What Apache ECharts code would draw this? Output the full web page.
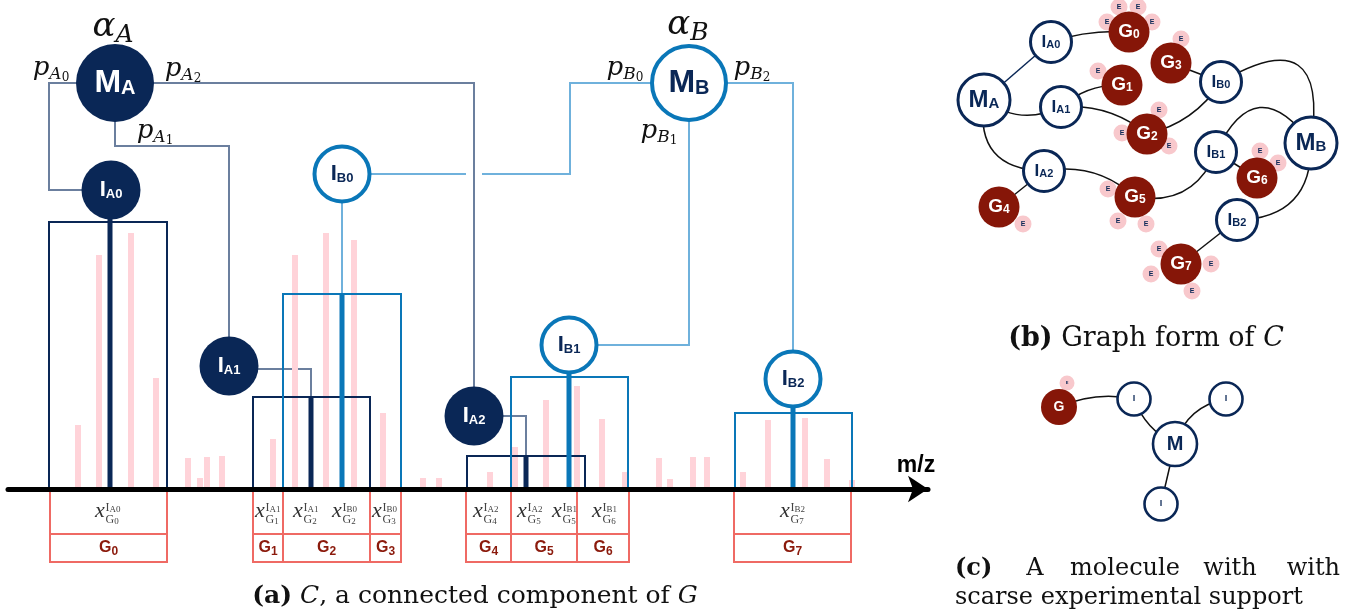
<!DOCTYPE html>
<html>
<head>
<meta charset="utf-8">
<script src="https://cdn.jsdelivr.net/npm/echarts@6/dist/echarts.min.js"></script>
<style>
html,body{margin:0;padding:0;background:#ffffff;}
#chart{width:1345px;height:616px;}
</style>
</head>
<body>
<div id="chart"></div>
<script>
// ================= DATA =================
// (a) spectrum: unannotated peaks (m/z position, intensity)
const peakMz        = [78, 99, 131, 156, 188, 200, 207, 222, 273, 295, 326, 354, 383, 423, 439, 490, 515, 546, 577, 602, 625, 659, 670, 693, 707, 743, 768, 805, 827, 852];
const peakIntensity = [64, 234, 256, 111, 31, 11, 32, 33, 50, 234, 256, 249, 76, 11, 11, 17, 42, 89, 103, 70, 17, 31, 10, 32, 32, 17, 69, 71, 30, 9];

// (a) annotated ions
const ionNames        = ['IA0', 'IA1', 'IA2', 'IB0', 'IB1', 'IB2'];
const ionMolecule     = ['A', 'A', 'A', 'B', 'B', 'B'];
const ionMz           = [110, 311, 526, 342, 569, 793];
const ionIntensity    = [270, 92, 33, 195, 116, 81];
const ionWindowLow    = [49, 253, 467, 283, 511, 735];
const ionWindowHigh   = [167, 370, 585, 401, 628, 852];
const ionWindowHeight = [267, 92, 33, 195, 112, 76];
const ionNodeMz       = [111, 229, 474, 342, 569, 793];
const ionNodeLevel    = [299, 123, 73, 315, 144, 110];

// (a) molecules
const molNames     = ['MA', 'MB'];
const molNodeMz    = [115, 689];
const molNodeLevel = [406, 406];

// (a) routes molecule -> ion (m/z, level)
const routesA = [
  [[115, 406], [49, 406], [49, 299], [111, 299]],
  [[115, 406], [115, 343], [229, 343], [229, 123]],
  [[115, 406], [474, 406], [474, 73]],
  [[229, 120], [311, 120], [311, 92]],
  [[474, 73], [526, 73], [526, 33]]
];
const routesB = [
  [[342, 315], [466, 315]],
  [[482, 315], [570, 315], [570, 406], [689, 406]],
  [[689, 406], [689, 144], [569, 144]],
  [[689, 406], [793, 406], [793, 110]],
  [[342, 315], [342, 195]]
];

// (a) parameter annotations
const annotNames = ['αA', 'αB', 'pA0', 'pA1', 'pA2', 'pB0', 'pB1', 'pB2'];
const annotMz    = [113, 688, 51, 155, 183, 625, 659, 752];
const annotLevel = [462, 464, 421, 358, 420, 421, 358, 421];

// (a) groups below the axis
const groupNames = ['G0', 'G1', 'G2', 'G3', 'G4', 'G5', 'G6', 'G7'];
const groupLow   = [50, 253, 283, 370, 466, 511, 577, 734];
const groupHigh  = [167, 283, 370, 401, 511, 577, 629, 851];

// (a) assignments x^{ion}_{group}
const assignIon   = ['IA0', 'IA1', 'IA1', 'IB0', 'IB0', 'IA2', 'IA2', 'IB1', 'IB1', 'IB2'];
const assignGroup = ['G0', 'G1', 'G2', 'G2', 'G3', 'G4', 'G5', 'G5', 'G6', 'G7'];
const assignMz    = [95, 255, 293, 332, 372, 473, 517, 552, 592, 780];

// (b) graph form
const gNodeNames = ['MA', 'IA0', 'IA1', 'IA2', 'G0', 'G1', 'G2', 'G3', 'G4', 'G5', 'G6', 'G7', 'IB0', 'IB1', 'IB2', 'MB'];
const gNodeX     = [984, 1051, 1061, 1044, 1129, 1122, 1147, 1171, 999, 1135, 1257, 1181, 1221, 1216, 1237, 1311];
const gNodeY     = [100, 42, 107, 171, 32, 85, 134, 63, 207, 197, 178, 264, 82, 152, 220, 143];
const gEdgeFrom  = ['MA', 'MA', 'MA', 'IA0', 'IA1', 'IA1', 'IA2', 'IA2', 'G3', 'G2', 'IB0', 'IB1', 'IB1', 'IB1', 'IB2', 'IB2'];
const gEdgeTo    = ['IA0', 'IA1', 'IA2', 'G0', 'G1', 'G2', 'G4', 'G5', 'IB0', 'IB0', 'MB', 'MB', 'G5', 'G6', 'MB', 'G7'];
const gEdgeBend  = [0, -0.3, -0.56, 0.1, 0.2, 0.2, 0, 0.25, 0, -0.2, 1.05, 0.84, 0.4, 0, -0.5, 0];
const eParent    = ['G0', 'G0', 'G0', 'G0', 'G3', 'G1', 'G2', 'G2', 'G2', 'G6', 'G6', 'G5', 'G5', 'G5', 'G4', 'G7', 'G7', 'G7', 'G7'];
const eX         = [1107, 1119, 1138, 1152, 1181, 1098, 1159, 1122, 1169, 1260, 1278, 1108, 1118, 1146, 1023, 1159, 1151, 1211, 1192];
const eY         = [22, 7, 7, 22, 39, 71, 110, 133, 146, 151, 163, 189, 221, 224, 224, 249, 274, 264, 291];

// (c) molecule with scarce support
const cNodeNames = ['E', 'G', 'I1', 'I2', 'M', 'I3'];
const cNodeX     = [1067, 1059, 1134, 1226, 1175, 1161];
const cNodeY     = [383, 407, 399, 399, 444, 504];
const cEdgeFrom  = ['G', 'I1', 'I2', 'M'];
const cEdgeTo    = ['I1', 'M', 'M', 'I3'];
const cEdgeBend  = [0.16, -0.2, -0.3, 0];

// ================= STYLE =================
const NAVY = '#0a2756';
const BLUE = '#0a77b8';
const LBLUE = '#6fb1dc';
const GRAYBLUE = '#6b7f9e';
const PINK = '#ffd3d9';
const RED = '#ef6a64';
const DARKRED = '#8b1a0c';
const GNODE = '#861608';
const EPINK = '#f8c8cc';
const SANS = '"Liberation Sans", Arial, Helvetica, sans-serif';
const SERIF = '"DejaVu Serif", "Liberation Serif", serif';
const TSERIF = '"Liberation Serif", "DejaVu Serif", serif';
const ROW1 = -45, ROW2 = -73, XLAB = -23.5;

function tok(color, size, drop) {
  return {color: color, fontSize: size, fontWeight: 'bold', fontFamily: SANS, lineHeight: size, verticalAlign: 'top', padding: [drop || 0, 0, 0, 0]};
}
function ztok(fill, size, drop, fontStyle, weight, family) {
  return {fill: fill, fontSize: size, fontFamily: family || SERIF, fontStyle: fontStyle || 'normal', fontWeight: weight || 'normal', lineHeight: size, verticalAlign: 'top', padding: [drop || 0, 0, 0, 0]};
}

const nodeRich = {
  wM: tok('#fff', 32, 0), wS: tok('#fff', 20, 11),
  nM: tok(NAVY, 32, 0), nS: tok(NAVY, 20, 11),
  wI: tok('#fff', 22, 0), wIs: tok('#fff', 13, 9),
  nI: tok(NAVY, 22, 0), nIs: tok(NAVY, 13, 9)
};
const graphRich = {
  bM: tok(NAVY, 24, 0), bMs: tok(NAVY, 15, 8),
  bI: tok(NAVY, 17, 0), bIs: tok(NAVY, 11, 6),
  bG: tok('#fff', 19, 0), bGs: tok('#fff', 12, 6),
  e: tok(NAVY, 7, 0),
  cG: tok('#fff', 14, 0), cI: tok(NAVY, 9, 0), cM: tok(NAVY, 20, 0), cE: tok(NAVY, 4, 0)
};
const mathRich = {
  aM: ztok('#111', 34, 0, 'italic'), aS: ztok('#111', 25, 13, 'italic'),
  pM: ztok('#111', 26, 0, 'italic'), pS: ztok('#111', 17, 11, 'italic'), pN: ztok('#111', 12, 17)
};
const xRich = {
  x: ztok('#333', 22, 0, 'italic', 'normal', TSERIF),
  a: ztok('#444', 12, 0, 'normal', 'normal', TSERIF), b: ztok('#444', 9, 4, 'normal', 'normal', TSERIF)
};
const gRich = {
  g: ztok(DARKRED, 16, 0, 'normal', 'bold', SANS),
  n: ztok(DARKRED, 12, 6, 'normal', 'bold', SANS)
};

// ================= BUILD =================
const nodeItems = [];
molNames.forEach(function (n, i) {
  const isA = n === 'MA';
  nodeItems.push({
    value: [molNodeMz[i], molNodeLevel[i]],
    symbolSize: isA ? 78 : 74,
    itemStyle: isA ? {color: NAVY, opacity: 1} : {color: '#fff', borderColor: BLUE, borderWidth: 4, opacity: 1},
    label: {formatter: isA ? '{wM|M}{wS|A}' : '{nM|M}{nS|B}'}
  });
});
ionNames.forEach(function (n, i) {
  const isA = ionMolecule[i] === 'A';
  nodeItems.push({
    value: [ionNodeMz[i], ionNodeLevel[i]],
    symbolSize: isA ? 59 : 55,
    itemStyle: isA ? {color: NAVY, opacity: 1} : {color: '#fff', borderColor: BLUE, borderWidth: 4, opacity: 1},
    label: {formatter: '{' + (isA ? 'wI' : 'nI') + '|I}{' + (isA ? 'wIs' : 'nIs') + '|' + n.slice(1) + '}'}
  });
});

const bItems = [];
eParent.forEach(function (p, i) {
  bItems.push({name: 'E' + i, value: [eX[i], eY[i]], symbolSize: 17, itemStyle: {color: EPINK}, label: {formatter: '{e|E}'}});
});
gNodeNames.forEach(function (n, i) {
  const item = {name: n, value: [gNodeX[i], gNodeY[i]]};
  if (n[0] === 'M') {
    item.symbolSize = 52; item.itemStyle = {color: '#fff', borderColor: NAVY, borderWidth: 3};
    item.label = {formatter: '{bM|M}{bMs|' + n.slice(1) + '}'};
  } else if (n[0] === 'I') {
    item.symbolSize = 41; item.itemStyle = {color: '#fff', borderColor: NAVY, borderWidth: 3};
    item.label = {formatter: '{bI|I}{bIs|' + n.slice(1) + '}'};
  } else {
    item.symbolSize = 41; item.itemStyle = {color: GNODE};
    item.label = {formatter: '{bG|G}{bGs|' + n.slice(1) + '}'};
  }
  bItems.push(item);
});
const bLinks = gEdgeFrom.map(function (s, i) {
  return {source: s, target: gEdgeTo[i], lineStyle: {curveness: gEdgeBend[i], color: (s === 'MA' && gEdgeTo[i] === 'IA0') ? NAVY : '#111'}};
});

const cItems = cNodeNames.map(function (n, i) {
  const item = {name: n, value: [cNodeX[i], cNodeY[i]]};
  if (n === 'E') { item.symbolSize = 15; item.itemStyle = {color: EPINK}; item.label = {formatter: '{cE|E}'}; }
  else if (n === 'G') { item.symbolSize = 36; item.itemStyle = {color: GNODE}; item.label = {formatter: '{cG|G}'}; }
  else if (n === 'M') { item.symbolSize = 44; item.itemStyle = {color: '#fff', borderColor: NAVY, borderWidth: 2.6}; item.label = {formatter: '{cM|M}'}; }
  else { item.symbolSize = 33; item.itemStyle = {color: '#fff', borderColor: NAVY, borderWidth: 2.6}; item.label = {formatter: '{cI|I}'}; }
  return item;
});
const cLinks = cEdgeFrom.map(function (s, i) {
  return {source: s, target: cEdgeTo[i], lineStyle: {curveness: cEdgeBend[i]}};
});

function annotText(name) {
  if (name[0] === 'α') return '{aM|α}{aS|' + name[1] + '}';
  return '{pM|p}{pS|' + name[1] + '}{pN|' + name[2] + '}';
}

const option = {
  animation: false,
  backgroundColor: '#ffffff',
  grid: [
    {left: 8, top: 0, width: 920, height: 616},
    {left: 940, top: 0, width: 405, height: 616}
  ],
  xAxis: [
    {type: 'value', gridIndex: 0, min: 8, max: 928, z: 10,
     axisLine: {show: true, onZero: true, lineStyle: {color: '#000', width: 5}, symbol: ['none', 'arrow'], symbolSize: [20, 20]},
     axisTick: {show: false}, axisLabel: {show: false}, splitLine: {show: false}},
    {type: 'value', gridIndex: 1, min: 940, max: 1345, show: false}
  ],
  yAxis: [
    {type: 'value', gridIndex: 0, min: -127, max: 489, show: false},
    {type: 'value', gridIndex: 1, min: 0, max: 616, inverse: true, show: false}
  ],
  series: [
    // pink peaks
    {type: 'bar', xAxisIndex: 0, yAxisIndex: 0, barWidth: 6, silent: true, z: 2,
     itemStyle: {color: PINK},
     data: peakMz.map(function (m, i) { return [m, peakIntensity[i]]; })},
    // windows around annotated ions
    {type: 'custom', xAxisIndex: 0, yAxisIndex: 0, silent: true, z: 3,
     data: ionNames.map(function (n, i) { return [ionWindowLow[i], ionWindowHigh[i], ionWindowHeight[i], i]; }),
     renderItem: function (params, api) {
       const i = api.value(3);
       const p0 = api.coord([api.value(0), api.value(2)]);
       const p1 = api.coord([api.value(1), 0]);
       return {type: 'rect', z2: ionMolecule[i] === 'B' ? 2 : 1,
               shape: {x: p0[0], y: p0[1], width: p1[0] - p0[0], height: p1[1] - p0[1]},
               style: {fill: 'none', stroke: ionMolecule[i] === 'A' ? NAVY : BLUE, lineWidth: 2}};
     }},
    // connectors
    {type: 'lines', coordinateSystem: 'cartesian2d', xAxisIndex: 0, yAxisIndex: 0, polyline: true, silent: true, z: 2,
     lineStyle: {color: GRAYBLUE, width: 2, opacity: 1},
     data: routesA.map(function (c) { return {coords: c}; })},
    {type: 'lines', coordinateSystem: 'cartesian2d', xAxisIndex: 0, yAxisIndex: 0, polyline: true, silent: true, z: 2,
     lineStyle: {color: LBLUE, width: 2, opacity: 1},
     data: routesB.map(function (c) { return {coords: c}; })},
    // annotated ion peaks (thick)
    {type: 'custom', xAxisIndex: 0, yAxisIndex: 0, silent: true, z: 4,
     data: ionNames.map(function (n, i) { return [ionMz[i], ionIntensity[i], i]; }),
     renderItem: function (params, api) {
       const i = api.value(2);
       const a = api.coord([api.value(0), 0]);
       const b = api.coord([api.value(0), api.value(1)]);
       return {type: 'line', shape: {x1: a[0], y1: a[1], x2: b[0], y2: b[1]},
               style: {stroke: ionMolecule[i] === 'A' ? NAVY : BLUE, lineWidth: 5}};
     }},
    // nodes
    {type: 'scatter', xAxisIndex: 0, yAxisIndex: 0, silent: true, z: 5, symbol: 'circle',
     itemStyle: {opacity: 1},
     label: {show: true, position: 'inside', rich: nodeRich},
     data: nodeItems},
    // parameter annotations
    {type: 'custom', xAxisIndex: 0, yAxisIndex: 0, silent: true, z: 6,
     data: annotNames.map(function (n, i) { return [annotMz[i], annotLevel[i], i]; }),
     renderItem: function (params, api) {
       const p = api.coord([api.value(0), api.value(1)]);
       return {type: 'text', x: p[0], y: p[1],
               style: {text: annotText(annotNames[api.value(2)]), rich: mathRich, align: 'center', verticalAlign: 'middle'}};
     }},
    // m/z axis name
    {type: 'custom', xAxisIndex: 0, yAxisIndex: 0, silent: true, z: 6,
     data: [[916, 23]],
     renderItem: function (params, api) {
       const p = api.coord([api.value(0), api.value(1)]);
       return {type: 'text', x: p[0], y: p[1],
               style: {text: 'm/z', fill: '#000', fontSize: 23, fontWeight: 'bold', fontFamily: SANS, align: 'center', verticalAlign: 'middle'}};
     }},
    // group boxes
    {type: 'custom', xAxisIndex: 0, yAxisIndex: 0, silent: true, z: 3,
     data: groupNames.map(function (g, i) { return [groupLow[i], groupHigh[i], i]; }),
     renderItem: function (params, api) {
       const i = api.value(2);
       const a = api.coord([api.value(0), 0]);
       const b = api.coord([api.value(1), ROW1]);
       const c = api.coord([api.value(1), ROW2]);
       return {type: 'group', children: [
         {type: 'rect', shape: {x: a[0], y: a[1], width: b[0] - a[0], height: b[1] - a[1]}, style: {fill: 'none', stroke: RED, lineWidth: 2}},
         {type: 'rect', shape: {x: a[0], y: b[1], width: b[0] - a[0], height: c[1] - b[1]}, style: {fill: 'none', stroke: RED, lineWidth: 2}},
         {type: 'text', x: (a[0] + b[0]) / 2, y: (b[1] + c[1]) / 2,
          style: {text: '{g|G}{n|' + groupNames[i].slice(1) + '}', rich: gRich, align: 'center', verticalAlign: 'middle'}}
       ]};
     }},
    // assignment labels x^{I}_{G}
    {type: 'custom', xAxisIndex: 0, yAxisIndex: 0, silent: true, z: 6,
     data: assignIon.map(function (n, i) { return [assignMz[i], XLAB, i]; }),
     renderItem: function (params, api) {
       const i = api.value(2);
       const p = api.coord([api.value(0), api.value(1)]);
       const ion = assignIon[i], grp = assignGroup[i];
       return {type: 'group', children: [
         {type: 'text', x: p[0], y: p[1] - 1, style: {text: '{x|x}', rich: xRich, align: 'left', verticalAlign: 'middle'}},
         {type: 'text', x: p[0] + 10.5, y: p[1] + 1,
          style: {text: '{a|I}{b|' + ion.slice(1) + '}\n{a|G}{b|' + grp.slice(1) + '}', rich: xRich, align: 'left', verticalAlign: 'middle'}}
       ]};
     }},
    // (b) graph
    {type: 'graph', coordinateSystem: 'cartesian2d', xAxisIndex: 1, yAxisIndex: 1, layout: 'none', roam: false, silent: true, z: 5,
     edgeSymbol: ['none', 'none'],
     lineStyle: {color: '#111', width: 1.5, opacity: 1},
     label: {show: true, position: 'inside', rich: graphRich},
     data: bItems, links: bLinks},
    // (c) graph
    {type: 'graph', coordinateSystem: 'cartesian2d', xAxisIndex: 1, yAxisIndex: 1, layout: 'none', roam: false, silent: true, z: 5,
     edgeSymbol: ['none', 'none'],
     lineStyle: {color: '#111', width: 1.5, opacity: 1},
     label: {show: true, position: 'inside', rich: graphRich},
     data: cItems, links: cLinks}
  ],
  graphic: [
    {type: 'text', x: 475, y: 596, silent: true,
     style: {text: '{b|(a)} {i|C}{r|, a connected component of }{i|G}', font: '25px ' + SERIF, fill: '#111', align: 'center', verticalAlign: 'middle',
             rich: {b: {font: 'bold 25px ' + SERIF, fill: '#111'}, i: {font: 'italic 25px ' + SERIF, fill: '#111'}, r: {font: '25px ' + SERIF, fill: '#111'}}}},
    {type: 'text', x: 1146, y: 339, silent: true,
     style: {text: '{b|(b)} {r|Graph form of }{i|C}', font: '27px ' + SERIF, fill: '#111', align: 'center', verticalAlign: 'middle',
             rich: {b: {font: 'bold 27px ' + SERIF, fill: '#111'}, i: {font: 'italic 27px ' + SERIF, fill: '#111'}, r: {font: '27px ' + SERIF, fill: '#111'}}}},
    {type: 'text', x: 955, y: 569, silent: true, style: {text: '(c)', font: 'bold 24px ' + SERIF, fill: '#111', align: 'left', verticalAlign: 'middle'}},
    {type: 'text', x: 1035, y: 569, silent: true, style: {text: 'A', font: '24px ' + SERIF, fill: '#111', align: 'center', verticalAlign: 'middle'}},
    {type: 'text', x: 1125, y: 569, silent: true, style: {text: 'molecule', font: '24px ' + SERIF, fill: '#111', align: 'center', verticalAlign: 'middle'}},
    {type: 'text', x: 1230, y: 569, silent: true, style: {text: 'with', font: '24px ' + SERIF, fill: '#111', align: 'center', verticalAlign: 'middle'}},
    {type: 'text', x: 1340, y: 569, silent: true, style: {text: 'with', font: '24px ' + SERIF, fill: '#111', align: 'right', verticalAlign: 'middle'}},
    {type: 'text', x: 955, y: 598, silent: true, style: {text: 'scarse experimental support', font: '24px ' + SERIF, fill: '#111', align: 'left', verticalAlign: 'middle'}}
  ]
};

const chart = echarts.init(document.getElementById('chart'));
chart.setOption(option);
</script>
</body>
</html>
